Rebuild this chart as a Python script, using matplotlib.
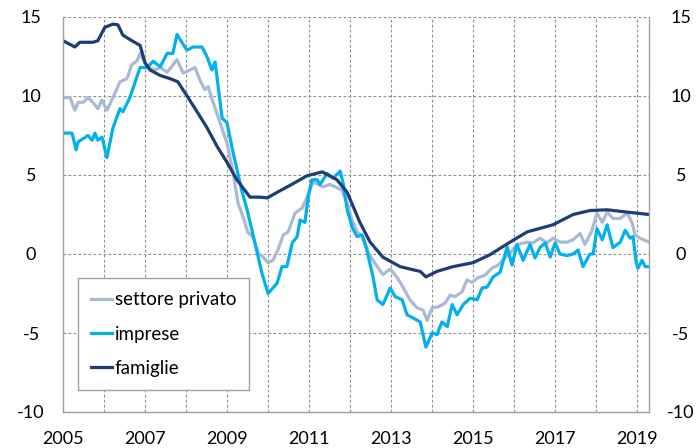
import matplotlib.pyplot as plt
import numpy as np

# years after Jan 2005 / values (percent)
fam_t = [0.00, 0.29, 0.41, 0.73, 0.85, 1.02, 1.22, 1.34, 1.46, 1.68, 1.88, 2.00, 2.12,
         2.37, 2.61, 2.80, 3.05, 3.27, 3.51, 3.76, 4.00, 4.24, 4.56, 4.80, 4.98, 5.22,
         5.61, 5.95, 6.32, 6.68, 6.93, 7.24, 7.49, 7.80, 8.22, 8.46, 8.71, 8.85, 9.12,
         9.51, 10.00, 10.41, 10.90, 11.32, 11.95, 12.44, 12.85, 13.27, 13.76, 14.29]
fam_v = [13.5, 13.1, 13.4, 13.4, 13.5, 14.35, 14.55, 14.5, 13.85, 13.5, 13.2, 12.1, 11.65,
         11.3, 11.1, 10.9, 9.9, 9.0, 8.0, 6.8, 5.8, 4.7, 3.6, 3.6, 3.55, 3.9,
         4.45, 4.95, 5.2, 4.7, 3.9, 2.0, 0.75, -0.2, -0.8, -0.95, -1.1, -1.45, -1.1,
         -0.8, -0.55, -0.05, 0.75, 1.4, 1.85, 2.5, 2.75, 2.8, 2.65, 2.5]

imp_t = [0.00, 0.22, 0.32, 0.37, 0.61, 0.71, 0.78, 0.85, 0.95, 1.07, 1.22, 1.39, 1.46,
         1.63, 1.88, 2.05, 2.20, 2.37, 2.54, 2.68, 2.78, 3.02, 3.17, 3.39, 3.51, 3.63,
         3.71, 3.88, 4.00, 4.15, 4.37, 4.49, 4.68, 4.85, 5.00, 5.22, 5.34, 5.46, 5.59,
         5.71, 5.78, 5.90, 5.98, 6.07, 6.20, 6.27, 6.44, 6.59, 6.76, 6.83, 6.93, 7.05,
         7.17, 7.29, 7.41, 7.56, 7.66, 7.80, 7.98, 8.10, 8.27, 8.39, 8.54, 8.71, 8.85,
         9.00, 9.12, 9.24, 9.37, 9.49, 9.61, 9.76, 9.93, 10.10, 10.22, 10.34, 10.49,
         10.66, 10.83, 10.95, 11.07, 11.22, 11.39, 11.51, 11.63, 11.76, 11.88, 12.00,
         12.12, 12.29, 12.44, 12.56, 12.68, 12.85, 12.93, 13.02, 13.15, 13.27, 13.41,
         13.59, 13.71, 13.83, 13.90, 13.98, 14.02, 14.12, 14.20, 14.29]
imp_v = [7.65, 7.65, 6.6, 7.1, 7.5, 7.2, 7.65, 7.2, 7.4, 6.1, 8.0, 9.2, 9.0,
         9.9, 11.8, 11.8, 12.2, 11.85, 12.7, 12.7, 13.9, 12.9, 13.1, 13.1, 12.5, 11.65,
         12.15, 8.6, 8.3, 6.4, 3.9, 2.8, 0.7, -1.2, -2.5, -1.85, -0.8, -0.8, 0.7,
         1.1, 2.15, 2.0, 3.6, 4.7, 4.7, 4.4, 5.1, 4.8, 5.25, 4.5, 2.8, 1.7,
         1.1, 1.2, 0.25, -1.45, -2.9, -3.2, -2.15, -2.7, -2.9, -3.85, -4.05, -4.3, -5.9,
         -5.0, -5.1, -4.3, -4.6, -3.2, -3.85, -3.2, -2.8, -2.9, -2.15, -2.1, -1.45,
         -1.15, 0.45, -0.7, 0.6, -0.4, 0.6, -0.25, 0.4, 0.7, -0.2, 0.7,
         0.0, -0.1, 0.0, 0.25, -0.8, 0.0, 0.0, 1.6, 0.9, 1.85, 0.4,
         0.75, 1.5, 1.0, 1.1, -0.55, -0.9, -0.4, -0.8, -0.8]

pri_t = [0.00, 0.17, 0.29, 0.37, 0.49, 0.61, 0.73, 0.85, 0.95, 1.07, 1.22, 1.39, 1.56,
         1.68, 1.80, 1.88, 2.05, 2.24, 2.37, 2.54, 2.78, 2.93, 3.10, 3.22, 3.34, 3.46,
         3.54, 3.66, 3.78, 4.00, 4.15, 4.27, 4.39, 4.51, 4.63, 4.76, 4.88, 5.00, 5.12,
         5.24, 5.37, 5.49, 5.66, 5.83, 5.95, 6.10, 6.22, 6.34, 6.51, 6.68, 6.80, 6.93,
         7.05, 7.17, 7.32, 7.44, 7.61, 7.80, 7.98, 8.15, 8.29, 8.46, 8.63, 8.78, 8.88,
         9.00, 9.15, 9.32, 9.44, 9.56, 9.73, 9.85, 9.98, 10.12, 10.29, 10.46, 10.61,
         10.78, 10.90, 11.07, 11.32, 11.46, 11.63, 11.80, 11.95, 12.12, 12.29, 12.44,
         12.61, 12.73, 12.90, 13.02, 13.15, 13.27, 13.41, 13.59, 13.76, 13.88, 13.95,
         14.07, 14.29]
pri_v = [9.9, 9.9, 9.1, 9.6, 9.6, 9.9, 9.6, 9.2, 9.75, 9.1, 9.9, 10.9, 11.1,
         12.0, 12.2, 12.7, 11.85, 11.65, 11.8, 11.5, 12.3, 11.45, 11.65, 11.8, 11.0, 10.4,
         10.6, 9.6, 8.7, 7.0, 5.1, 3.2, 2.35, 1.35, 1.1, 0.05, -0.2, -0.55, -0.4,
         0.25, 1.2, 1.4, 2.6, 2.9, 3.6, 4.55, 4.4, 4.25, 4.4, 4.2, 4.05, 3.2,
         2.15, 1.4, 1.1, 0.1, -0.6, -1.3, -0.95, -1.5, -2.1, -2.9, -3.4, -3.55, -4.2,
         -3.4, -3.35, -3.1, -2.6, -2.7, -2.4, -1.65, -1.8, -1.5, -1.35, -0.9, -0.7,
         -0.25, 0.05, 0.6, 0.75, 0.7, 1.0, 0.7, 1.0, 0.75, 0.75, 0.9,
         1.3, 0.6, 1.5, 2.6, 2.0, 2.65, 2.25, 2.25, 2.6, 1.95, 1.2,
         1.0, 0.75]

labels = ['settore privato', 'imprese', 'famiglie']
colors = ['#A9B9D7', '#00B0F0', '#1F3D74']
year_labels = ['2005', '2007', '2009', '2011', '2013', '2015', '2017', '2019']
y_ticks = [-10, -5, 0, 5, 10, 15]

plt.rcParams['font.family'] = ['Lato', 'DejaVu Sans']

fig = plt.figure(figsize=(6.97, 4.48), dpi=100)
ax = fig.add_axes([63 / 697, 1 - 412 / 448, 586 / 697, 395 / 448])

for t, v, lab, c in zip([pri_t, imp_t, fam_t], [pri_v, imp_v, fam_v], labels, colors):
    ax.plot(2005 + np.array(t), v, color=c, lw=2.3, label=lab, solid_joinstyle='round')

ax.set_xlim(2005, 2019.29)
ax.set_ylim(-10, 15)
ax.set_xticks(np.arange(2005, 2020, 2))
ax.set_xticklabels(year_labels)
ax.set_xticks(np.arange(2006, 2019, 2), minor=True)
ax.set_yticks(y_ticks)
ax.set_yticklabels([str(v) for v in y_ticks])

ax.grid(True, which='both', color='#8C8C8C', lw=0.8, ls=(0, (2.5, 2)))
ax.set_axisbelow(True)
ax.tick_params(which='both', length=0)
ax.tick_params(axis='x', labelsize=13, pad=14)
ax.tick_params(axis='y', labelsize=13, pad=23, labelright=True)
for tk in ax.yaxis.get_major_ticks():
    tk.label1.set_horizontalalignment('center')
    tk.label2.set_horizontalalignment('center')

ax.spines['top'].set_visible(False)
for s in ['left', 'bottom', 'right']:
    ax.spines[s].set_color('#A0A0A0')
    ax.spines[s].set_linewidth(1.0)

leg = ax.legend(loc='lower left', bbox_to_anchor=(0.0256, 0.0557), borderaxespad=0,
                fontsize=13.5, handlelength=1.1, handletextpad=0.15, labelspacing=0.92,
                borderpad=0.7, fancybox=False, framealpha=1, edgecolor='#A0A0A0')
leg.get_frame().set_linewidth(1.0)

fig.text(352 / 697, 1.008, '(dati mensili; variazioni percentuali sui 12 mesi)',
         ha='center', va='baseline', fontsize=13)

fig.savefig('out.png', dpi=100)
